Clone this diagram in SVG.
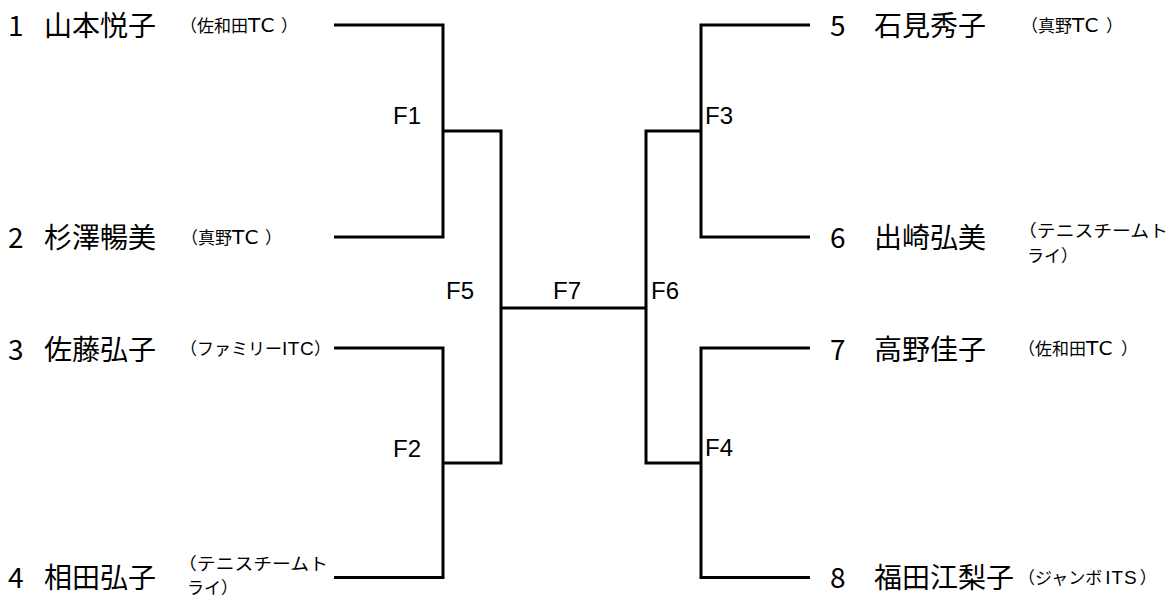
<svg xmlns="http://www.w3.org/2000/svg" width="1172" height="599" viewBox="0 0 1172 599">
<style>
.line{fill:none;stroke:#000;stroke-width:3;stroke-linejoin:miter;stroke-linecap:butt}
.big{font-family:"Noto Sans CJK JP","Noto Sans CJK SC",sans-serif;font-size:28px;fill:#000}
.club{font-family:"Noto Sans CJK JP","Noto Sans CJK SC",sans-serif;font-size:17px;fill:#000}
.lat{font-family:"DejaVu Sans","Liberation Sans",sans-serif;font-size:20px;letter-spacing:1.5px}
.lat2{font-family:"Liberation Sans","DejaVu Sans",sans-serif;font-size:19px;letter-spacing:0.5px}
.f{font-family:"Liberation Sans",sans-serif;font-size:24px;fill:#000}
</style>
<rect width="1172" height="599" fill="#fff"/>
<g id="connectors">
<path class="line" d="M334 25 H443 V237 H334"/>
<path class="line" d="M334 348 H443 V577.5 H334"/>
<path class="line" d="M443 131 H501 V463 H443"/>
<path class="line" d="M501 308 H646"/>
<path class="line" d="M810 25 H701 V237 H810"/>
<path class="line" d="M810 348 H701 V577.5 H810"/>
<path class="line" d="M701 131 H646 V463 H701"/>
</g>
<g id="p1">
<text class="big" x="8" y="35.5">1</text>
<text class="big" x="44" y="35.5">山本悦子</text>
<text class="club" x="180" y="31.5">（佐和田<tspan class="lat">TC</tspan><tspan dx="5">）</tspan></text>
</g>
<g id="p2">
<text class="big" x="8" y="248">2</text>
<text class="big" x="44" y="248">杉澤暢美</text>
<text class="club" x="181" y="243.5">（真野<tspan class="lat">TC</tspan><tspan dx="5">）</tspan></text>
</g>
<g id="p3">
<text class="big" x="8" y="359.5">3</text>
<text class="big" x="44" y="359.5">佐藤弘子</text>
<text class="club" x="180" y="354.5">（ファミリー<tspan class="lat2">ITC</tspan><tspan>）</tspan></text>
</g>
<g id="p4">
<text class="big" x="8" y="588">4</text>
<text class="big" x="44" y="588">相田弘子</text>
<text class="club" x="178" y="569.5" textLength="150" lengthAdjust="spacingAndGlyphs">（テニスチームト</text>
<text class="club" x="187" y="593.5">ライ）</text>
</g>
<g id="p5">
<text class="big" x="830" y="35.5">5</text>
<text class="big" x="874" y="35.5">石見秀子</text>
<text class="club" x="1021" y="31.5">（真野<tspan class="lat">TC</tspan><tspan dx="6">）</tspan></text>
</g>
<g id="p6">
<text class="big" x="830" y="248">6</text>
<text class="big" x="874" y="248">出崎弘美</text>
<text class="club" x="1018" y="236.5" textLength="150" lengthAdjust="spacingAndGlyphs">（テニスチームト</text>
<text class="club" x="1027" y="262">ライ）</text>
</g>
<g id="p7">
<text class="big" x="830" y="359.5">7</text>
<text class="big" x="874" y="359.5">高野佳子</text>
<text class="club" x="1018" y="354.5">（佐和田<tspan class="lat">TC</tspan><tspan dx="7">）</tspan></text>
</g>
<g id="p8">
<text class="big" x="830" y="588">8</text>
<text class="big" x="874" y="588">福田江梨子</text>
<text class="club" x="1018" y="583.5">（ジャンボ<tspan class="lat2" dx="3" style="letter-spacing:1px">ITS</tspan><tspan dx="2">）</tspan></text>
</g>
<g id="F1"><text class="f" x="393" y="124">F1</text></g>
<g id="F2"><text class="f" x="393" y="457">F2</text></g>
<g id="F3"><text class="f" x="705" y="124">F3</text></g>
<g id="F4"><text class="f" x="705" y="456">F4</text></g>
<g id="F5"><text class="f" x="446" y="299">F5</text></g>
<g id="F6"><text class="f" x="651" y="299">F6</text></g>
<g id="F7"><text class="f" x="553" y="299">F7</text></g>
</svg>
